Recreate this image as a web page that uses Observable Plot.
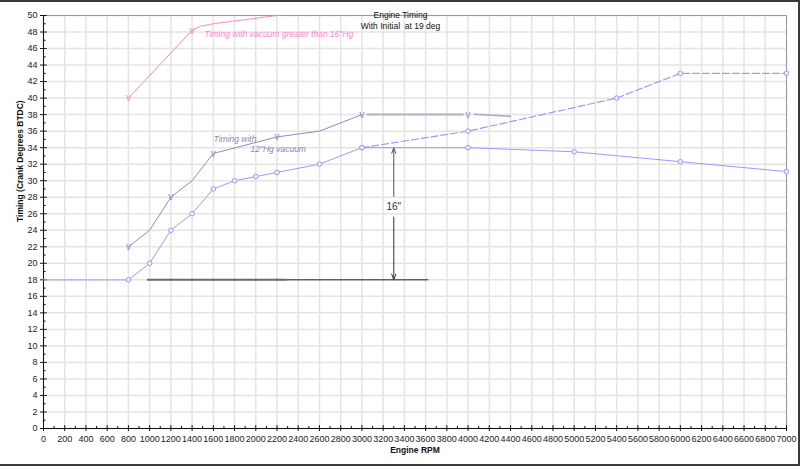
<!DOCTYPE html>
<html>
<head>
<meta charset="utf-8">
<script src="https://cdn.jsdelivr.net/npm/d3@7"></script>
<script src="https://cdn.jsdelivr.net/npm/@observablehq/plot@0.6"></script>
<style>
  html, body { margin: 0; padding: 0; background: #fff; }
  #wrap { position: relative; width: 800px; height: 466px; overflow: hidden; }
  #border { position: absolute; left: 0; top: 0; width: 800px; height: 466px; box-sizing: border-box;
            border-top: 2px solid #3a3a3a; border-right: 2px solid #3a3a3a; border-bottom: 2px solid #3a3a3a;
            pointer-events: none; }
</style>
</head>
<body>
<div id="wrap"><div id="border"></div></div>
<script>
// ---- data ----
const idleRpm = [0, 800];
const idleTiming = [18, 18];

const baseRpm = [800, 1000, 1200, 1400, 1600, 1800, 2000, 2200, 2600, 3000, 4000, 5000, 6000, 7000];
const baseTiming = [18, 20, 24, 26, 29, 30, 30.5, 31, 32, 34, 34, 33.5, 32.3, 31.1];

const totalRpm = [3000, 4000, 5400, 6000, 7000];
const totalTiming = [34, 36, 40, 43, 43];

const vac12Rpm = [800, 1000, 1200, 1400, 1600, 2200, 2600, 3000];
const vac12Timing = [22, 24, 28, 30, 33.3, 35.3, 36, 38];
const vac12MarkRpm = [800, 1200, 1600, 2200, 3000, 4000];
const vac12MarkTiming = [22, 28, 33.3, 35.3, 38, 38];

const vacFlatRpm = [3050, 3950];
const vacFlatTiming = [38, 38];
const vacTailRpm = [4060, 4400];
const vacTailTiming = [38.05, 37.8];

const vac16Rpm = [800, 1400, 1480, 1600, 2200];
const vac16Timing = [40, 48.2, 48.7, 49, 50];
const vac16MarkRpm = [800, 1400];
const vac16MarkTiming = [40, 48.2];

const baseLineRpmA = [980, 2300];
const baseLineRpmB = [2300, 3630];
const baseLineTiming = 18;

const arrowRpm = 3300;
const arrowUp = [28.1, 34];     // from, to
const arrowDown = [25.6, 18];   // from, to
const arrowLabel = "16\"";
const arrowLabelTiming = 26.8;

const xTicks = d3.range(0, 7001, 200);
const xMinor = d3.range(100, 7000, 200);
const yTicks = d3.range(0, 51, 2);
const yMinor = d3.range(1, 50, 2);

const titleText = "Engine Timing";
const subtitleText = "With Initial  at 19 deg";
const xLabel = "Engine RPM";
const yLabel = "Timing (Crank Degrees BTDC)";

const notes = [
  {text: "Timing with vacuum greater than 16\"Hg", rpm: 1517, timing: 47.7, kind: "pink"},
  {text: "Timing with", rpm: 1602, timing: 35.0, kind: "vac"},
  {text: "12\"Hg vacuum", rpm: 1950, timing: 33.75, kind: "vac"}
];

// ---- build tables ----
const zip = (xs, ys) => xs.map((x, i) => ({x, y: ys[i]}));
const idle = zip(idleRpm, idleTiming);
const base = zip(baseRpm, baseTiming);
const total = zip(totalRpm, totalTiming);
const vac12 = zip(vac12Rpm, vac12Timing);
const vac12Marks = zip(vac12MarkRpm, vac12MarkTiming);
const vacFlat = zip(vacFlatRpm, vacFlatTiming);
const vacTail = zip(vacTailRpm, vacTailTiming);
const vac16 = zip(vac16Rpm, vac16Timing);
const vac16Marks = zip(vac16MarkRpm, vac16MarkTiming);

const BLUE = "#9a9aff";
const VAC = "#8c8cc4";
const PINK = "#ff88c4";
const FONT = "'Liberation Sans', Arial, sans-serif";

const chart = Plot.plot({
  width: 800,
  height: 466,
  marginLeft: 43,
  marginRight: 14,
  marginTop: 15,
  marginBottom: 38,
  x: {domain: [0, 7000]},
  y: {domain: [0, 50]},
  style: {fontFamily: FONT, fontSize: "9px", background: "transparent", color: "#222", overflow: "visible"},
  marks: [
    Plot.gridX(xTicks, {stroke: "#e4e4e4", strokeOpacity: 1, strokeWidth: 1.5}),
    Plot.gridY(yTicks, {stroke: "#e4e4e4", strokeOpacity: 1, strokeWidth: 1.5}),
    Plot.frame({stroke: "#9a9a9a"}),
    Plot.ruleX([0], {stroke: "#111"}),
    Plot.ruleY([0], {stroke: "#111"}),
    // inward tick marks
    Plot.ruleY(yTicks, {x1: 0, x2: 35, stroke: "#111"}),
    Plot.ruleY(yMinor, {x1: 0, x2: 25, stroke: "#111"}),
    Plot.ruleX(xTicks, {y1: 0, y2: 0.35, stroke: "#111"}),
    Plot.ruleX(xMinor, {y1: 0, y2: 0.25, stroke: "#111"}),
    Plot.axisX({ticks: xTicks, tickSize: 3, tickPadding: 4, tickFormat: d => String(d), label: null, fontSize: 9, stroke: "#111"}),
    Plot.axisY({ticks: yTicks, tickSize: 3, tickPadding: 3, tickFormat: d => String(d), label: null, fontSize: 9, stroke: "#111"}),

    // reference line at 18 and the 16" arrow
    Plot.ruleY([baseLineTiming], {x1: baseLineRpmA[0], x2: baseLineRpmA[1], stroke: "#6a6a6a", strokeWidth: 2}),
    Plot.ruleY([baseLineTiming], {x1: baseLineRpmB[0], x2: baseLineRpmB[1], stroke: "#222", strokeWidth: 1}),
    Plot.arrow([{x: arrowRpm, y1: arrowUp[0], y2: arrowUp[1]}], {x1: "x", x2: "x", y1: "y1", y2: "y2", stroke: "#555", strokeWidth: 1, headLength: 9, headAngle: 40}),
    Plot.arrow([{x: arrowRpm, y1: arrowDown[0], y2: arrowDown[1]}], {x1: "x", x2: "x", y1: "y1", y2: "y2", stroke: "#333", strokeWidth: 1, headLength: 9, headAngle: 40}),
    Plot.text([arrowLabel], {x: arrowRpm, y: arrowLabelTiming, fontSize: 10, fill: "#333", fontFamily: FONT}),

    // base (initial + mechanical) timing
    Plot.line(idle, {x: "x", y: "y", stroke: BLUE, strokeWidth: 1.3, strokeDasharray: "1.5,1.5"}),
    Plot.line(base, {x: "x", y: "y", stroke: BLUE, strokeWidth: 1}),
    // total with vacuum (dashed)
    Plot.line(total, {x: "x", y: "y", stroke: BLUE, strokeWidth: 1.2, strokeDasharray: "7,3"}),
    Plot.dot(base, {x: "x", y: "y", r: 2.3, stroke: BLUE, fill: "#eeeeff", strokeWidth: 1}),
    Plot.dot(total, {x: "x", y: "y", r: 2.3, stroke: BLUE, fill: "#eeeeff", strokeWidth: 1}),

    // 12"Hg vacuum
    Plot.line(vac12, {x: "x", y: "y", stroke: VAC, strokeWidth: 1}),
    Plot.line(vacFlat, {x: "x", y: "y", stroke: "#b0b0cc", strokeWidth: 2}),
    Plot.line(vacTail, {x: "x", y: "y", stroke: "#a8a8c4", strokeWidth: 1.5}),
    Plot.text(vac12Marks, {x: "x", y: "y", text: () => "v", fill: VAC, fontSize: 10, fontFamily: FONT, dy: 0}),

    // >16"Hg vacuum
    Plot.line(vac16, {x: "x", y: "y", stroke: PINK, strokeWidth: 1}),
    Plot.text(vac16Marks, {x: "x", y: "y", text: () => "v", fill: PINK, fontSize: 10, fontFamily: FONT, dy: 0}),

    // annotations
    Plot.text(notes, {x: "rpm", y: "timing", text: "text", textAnchor: "start", fontStyle: "italic", fontSize: 8.5,
      fontFamily: FONT, fill: d => d.kind === "pink" ? PINK : "#8a8ab8"}),

    // titles
    Plot.text([titleText], {frameAnchor: "top", dx: -14.5, dy: -3.5, fontSize: 8.5, fill: "#111", fontFamily: FONT}),
    Plot.text([subtitleText], {frameAnchor: "top", dx: -14.5, dy: 7.5, fontSize: 8.5, fill: "#111", fontFamily: FONT}),
    Plot.text([xLabel], {frameAnchor: "bottom", dy: 24, fontSize: 8.5, fontWeight: "bold", fill: "#111", fontFamily: FONT}),
    Plot.text([yLabel], {frameAnchor: "left", dx: -23, rotate: -90, fontSize: 8.5, fontWeight: "bold", fill: "#111", fontFamily: FONT})
  ]
});
document.getElementById("wrap").insertBefore(chart, document.getElementById("border"));
</script>
</body>
</html>
